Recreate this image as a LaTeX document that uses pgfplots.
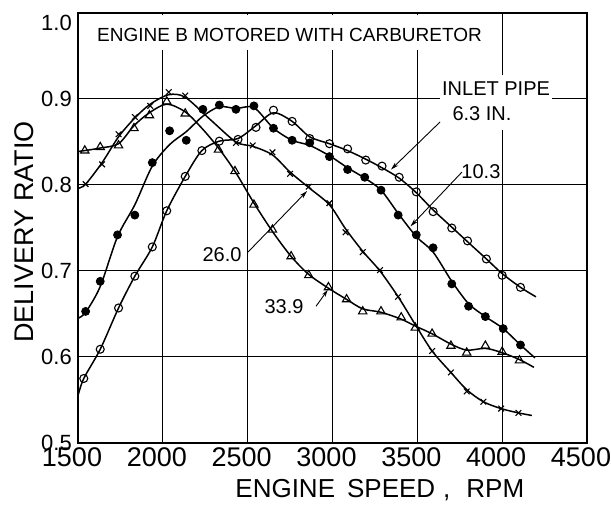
\documentclass[border=0pt]{standalone}
\usepackage{fontspec}
\setmainfont{Liberation Sans}
\usepackage{pgfplots}
\usepackage{pgfplotstable}
\pgfplotsset{compat=1.18}
\usetikzlibrary{arrows.meta}

% rpm, marker value (nan = line only), line value
\pgfplotstableread{
rpm y yl
1500 nan 0.555
1534 0.575 0.575
1631 0.609 0.609
1739 0.657 0.657
1835 0.694 0.694
1938 0.728 0.728
2023 0.770 0.770
2132 0.810 0.810
2230 0.840 0.840
2333 0.851 0.851
2443 0.853 0.854
2549 0.867 0.869
2652 0.887 0.884
2762 0.874 0.874
2866 0.854 0.856
2982 0.848 0.848
3089 0.842 0.840
3196 0.829 0.830
3292 0.822 0.820
3393 0.809 0.808
3494 0.792 0.791
3593 0.769 0.771
3703 0.750 0.751
3796 0.735 0.734
3907 0.714 0.714
4000 0.695 0.697
4108 0.681 0.681
4199 nan 0.670
}\sixthree

\pgfplotstableread{
rpm y yl
1500 nan 0.645
1545 0.653 0.652
1631 0.688 0.682
1733 0.742 0.740
1835 0.765 0.777
1938 0.826 0.822
2040 0.863 0.847
2138 0.852 0.862
2236 0.888 0.880
2333 0.893 0.891
2431 0.888 0.889
2537 0.892 0.890
2652 0.866 0.866
2762 0.852 0.852
2866 0.849 0.846
2982 0.833 0.834
3089 0.818 0.820
3190 0.809 0.808
3286 0.794 0.794
3387 0.765 0.767
3494 0.742 0.740
3593 0.727 0.722
3703 0.685 0.688
3802 0.659 0.662
3901 0.647 0.647
4006 0.633 0.633
4108 0.614 0.614
4193 nan 0.599
}\tenthree

\pgfplotstableread{
rpm y yl
1500 nan 0.796
1545 0.801 0.801
1642 0.824 0.826
1739 0.859 0.856
1835 0.879 0.878
1926 0.892 0.894
2035 0.908 0.905
2132 0.904 0.902
2280 nan 0.876
2431 0.849 0.850
2530 0.846 0.845
2646 0.838 0.835
2750 0.813 0.815
2860 0.798 0.797
2982 0.779 0.777
3077 0.745 0.749
3178 0.722 0.723
3280 0.701 0.700
3387 0.670 0.670
3490 nan 0.637
3587 0.607 0.607
3698 0.582 0.582
3791 0.560 0.562
3889 0.548 0.548
3994 0.540 0.540
4096 0.535 0.535
4175 nan 0.532
}\twentysix

\pgfplotstableread{
rpm y yl
1500 nan 0.839
1540 0.840 0.840
1631 0.844 0.843
1739 0.846 0.848
1830 0.866 0.869
1921 0.881 0.884
2023 0.897 0.894
2132 0.883 0.885
2230 nan 0.866
2328 0.841 0.843
2425 0.816 0.816
2537 0.777 0.779
2646 0.748 0.746
2756 0.717 0.717
2860 0.695 0.696
2976 0.681 0.680
3083 0.667 0.667
3178 0.653 0.656
3286 0.653 0.652
3405 0.646 0.644
3488 0.634 0.636
3587 0.627 0.627
3698 0.613 0.615
3791 0.605 0.608
3901 0.613 0.610
4000 0.606 0.605
4102 0.596 0.597
4187 nan 0.588
}\thirtythree

\begin{document}
\begin{tikzpicture}
\useasboundingbox (-78bp,-64bp) rectangle (533bp,443bp);
\begin{axis}[
  at={(0,0)}, anchor=south west,
  scale only axis, width=509bp, height=430bp,
  xmin=1500, xmax=4500, ymin=0.5, ymax=1.0,
  xtick={1500,2000,2500,3000,3500,4000,4500},
  xticklabels={1500,2000,2500,3000,3500,4000,4500},
  ytick={0.5,0.6,0.7,0.8,0.9,1.0},
  yticklabels={0.5,0.6,0.7,0.8,0.9,\raisebox{-18bp}[0pt][0pt]{1.0}},
  major tick length=0pt,
  grid=major,
  major grid style={black, line width=1bp},
  axis line style={black, line width=1.7bp},
  xticklabel style={font=\fontsize{27bp}{30bp}\selectfont, inner sep=0pt, anchor=north, yshift=-4bp, xshift=-6bp},
  yticklabel style={font=\fontsize{22bp}{24bp}\selectfont, inner sep=0pt, anchor=east, xshift=-6bp},
  xlabel={ENGINE\hspace{12bp}SPEED\hspace{8bp},\hspace{16bp}RPM},
  xlabel style={at={(axis description cs:0.593,-0.109)}, anchor=center, font=\fontsize{26bp}{28bp}\selectfont},
  ylabel={DELIVERY RATIO},
  ylabel style={at={(axis description cs:-0.106,0.4907)}, anchor=center, font=\fontsize{27bp}{30bp}\selectfont},
]
% curves
\addplot[black, line width=1.5bp, smooth, tension=0.5] table[x=rpm, y=yl] {\sixthree};
\addplot[black, line width=1.5bp, smooth, tension=0.5] table[x=rpm, y=yl] {\tenthree};
\addplot[black, line width=1.5bp, smooth, tension=0.5] table[x=rpm, y=yl] {\twentysix};
\addplot[black, line width=1.5bp, smooth, tension=0.5] table[x=rpm, y=yl] {\thirtythree};
% markers
\addplot[black, only marks, mark=o, mark size=4bp, mark options={line width=1.1bp, fill=white}] table[x=rpm, y=y] {\sixthree};
\addplot[black, only marks, mark=*, mark size=4bp, mark options={line width=0.8bp, fill=black}] table[x=rpm, y=y] {\tenthree};
\addplot[black, only marks, mark=x, mark size=4bp, mark options={line width=1.1bp}] table[x=rpm, y=y] {\twentysix};
\addplot[black, only marks, mark=triangle, mark size=4.8bp, mark options={line width=1.1bp, fill=white}] table[x=rpm, y=y] {\thirtythree};

% title box
\fill[white] (axis cs:1512,0.957) rectangle (axis cs:3928,0.9975);
\node[anchor=west, inner sep=0pt, font=\fontsize{19bp}{21bp}\selectfont] at (axis cs:1612,0.975) {ENGINE B MOTORED WITH CARBURETOR};

% inlet pipe label
\fill[white] (axis cs:3634,0.864) rectangle (axis cs:4294,0.928);
\node[inner sep=0pt, font=\fontsize{20bp}{22bp}\selectfont] at (axis cs:3964,0.9116) {INLET PIPE};
\node[inner sep=0pt, font=\fontsize{20bp}{22bp}\selectfont] at (axis cs:3881,0.8826) {6.3 IN.};
\draw[line width=0.9bp, -{Stealth[length=8bp,width=4.5bp]}] (axis cs:3634,0.8733) -- (axis cs:3345,0.818);

\node[inner sep=0pt, font=\fontsize{20bp}{22bp}\selectfont] at (axis cs:3875,0.815) {10.3};
\draw[line width=0.9bp, -{Stealth[length=8bp,width=4.5bp]}] (axis cs:3763,0.815) -- (axis cs:3460,0.752);

\node[inner sep=0pt, font=\fontsize{20bp}{22bp}\selectfont] at (axis cs:2349,0.7186) {26.0};
\draw[line width=0.9bp, -{Stealth[length=8bp,width=4.5bp]}] (axis cs:2502,0.722) -- (axis cs:2850,0.793);

\node[inner sep=0pt, font=\fontsize{20bp}{22bp}\selectfont] at (axis cs:2714,0.659) {33.9};
\draw[line width=0.9bp, -{Stealth[length=7bp,width=4bp]}] (axis cs:2903,0.659) -- (axis cs:2972,0.678);
\end{axis}
\end{tikzpicture}
\end{document}
